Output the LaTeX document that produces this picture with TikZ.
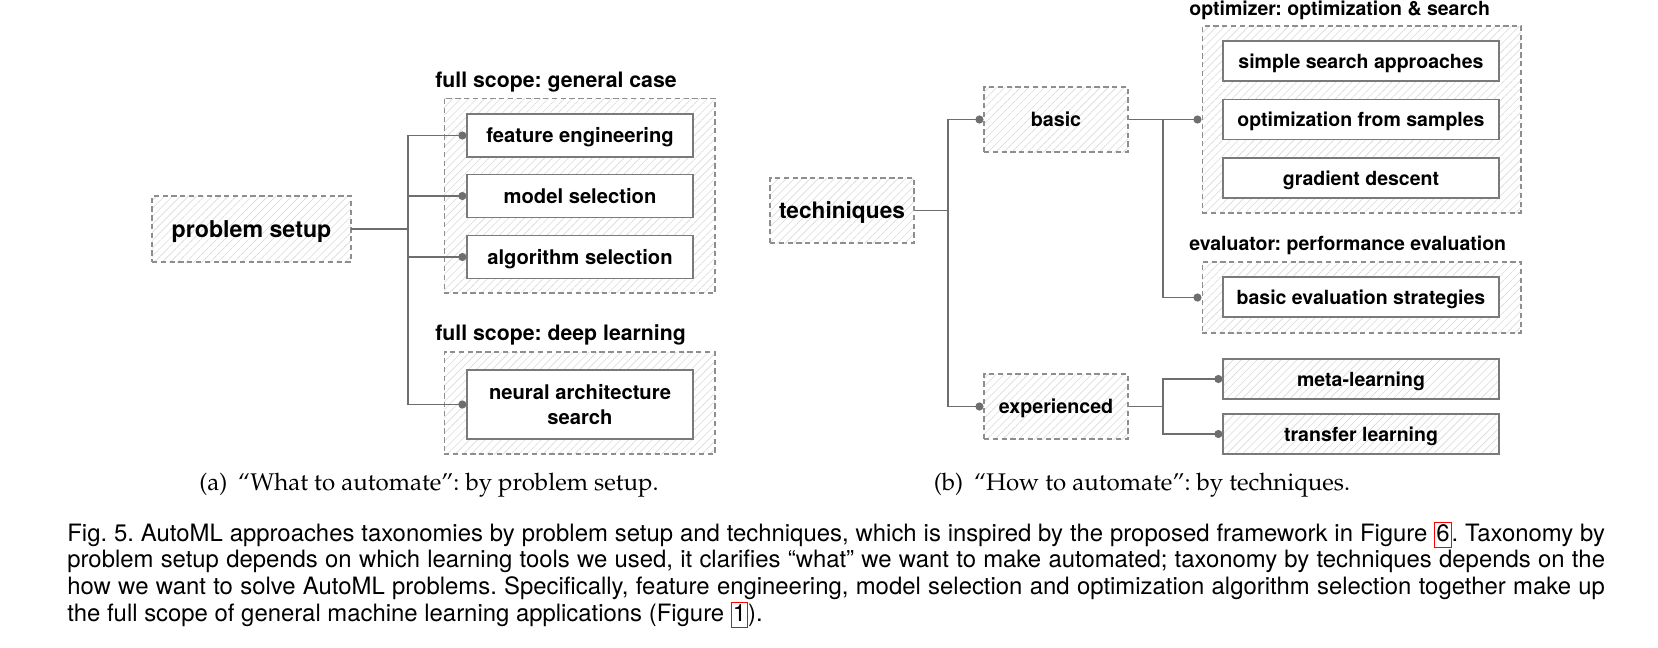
\documentclass[tikz,border=0pt]{standalone}
\usepackage[T1]{fontenc}
\usepackage{fontspec}
\usepackage{tikz}
\usetikzlibrary{arrows.meta,patterns.meta}
\newfontfamily\heros{TeX Gyre Heros}
\newcommand{\pala}{\fontencoding{T1}\fontfamily{ppl}\selectfont}
\newcommand{\fsz}[2]{\fontsize{#1}{#2}\selectfont}
\newcommand{\reflink}[1]{{\color{red}\fboxsep=0.5pt\fboxrule=0.6pt\fbox{\color{black}\vphantom{(}#1}}}
\definecolor{wiregray}{HTML}{6E6E6E}
\definecolor{rim}{HTML}{7A7A7A}
\definecolor{rimlight}{HTML}{8E8E8E}
\definecolor{hatch}{HTML}{D8D8D8}
\tikzset{
  hatched/.style={pattern={Lines[angle=45,distance=3.2pt,line width=0.35pt]},pattern color=hatch},
  group/.style={rectangle,draw=rimlight,dash pattern=on 3pt off 2pt,line width=0.6pt,hatched,text height=8.1pt,text depth=0pt},
  root/.style={group,font=\heros\bfseries\fsz{13.2}{15},text height=9.5pt},
  leaf/.style={rectangle,draw=rim,line width=0.7pt,fill=white,align=center,font=\heros\bfseries\fsz{11.5}{14.2},minimum width=4.52cm,minimum height=0.86cm,text height=8.3pt,text depth=0pt},
  leafb/.style={leaf,font=\heros\bfseries\fsz{11.1}{13},minimum width=5.52cm,minimum height=0.8cm,text height=8pt},
  grouptitle/.style={anchor=base west,inner sep=0pt,font=\heros\bfseries\fsz{12.1}{14}},
  wire/.style={draw=wiregray,line width=0.75pt},
  link/.style={wire,-{Circle[length=4.6pt]}},
  subcap/.style={font=\pala\fsz{13.7}{16}}
}
\begin{document}
\frenchspacing
\begin{tikzpicture}[x=0.02cm,y=-0.02cm]
  \useasboundingbox (0,0) rectangle (1658,647);
  % (a) problem setup
  \node[root,minimum width=3.98cm,minimum height=1.32cm] (setup) at (251.5,229) {problem setup};
  \node[group,minimum width=5.42cm,minimum height=3.9cm] (general) at (579.5,195.5) {};
  \node[group,minimum width=5.42cm,minimum height=2.04cm] (deep) at (579.5,403) {};
  \node[grouptitle] (generaltitle) at (435,87) {full scope: general case};
  \node[grouptitle] (deeptitle) at (435,340) {full scope: deep learning};
  \node[leaf] (feature) at (580,135.5) {feature engineering};
  \node[leaf] (model) at (580,196) {model selection};
  \node[leaf] (algorithm) at (580,257) {algorithm selection};
  \node[leaf,minimum height=1.38cm,text height={},text depth={}] (nas) at (580,404.5) {neural architecture\\search};
  \coordinate (forka) at (408,229);
  \draw[wire] (setup.east) -- (forka);
  \foreach \n in {feature,model,algorithm,nas}
    \draw[link] (forka) |- (\n.west);
  % (b) techniques
  \node[root,font=\heros\bfseries\fsz{12.9}{15},text height=9.3pt,minimum width=2.88cm,minimum height=1.3cm] (tech) at (842,210.5) {techiniques};
  \node[group,font=\heros\bfseries\fsz{11.2}{13},minimum width=2.88cm,minimum height=1.3cm] (basic) at (1056,119.5) {basic};
  \node[group,font=\heros\bfseries\fsz{11.2}{13},minimum width=2.88cm,minimum height=1.3cm] (experienced) at (1056,406.5) {experienced};
  \node[group,minimum width=6.38cm,minimum height=3.74cm] (optimizer) at (1361.5,119.5) {};
  \node[group,minimum width=6.38cm,minimum height=1.42cm] (evaluator) at (1361.5,297.5) {};
  \node[grouptitle,font=\heros\bfseries\fsz{11.1}{13}] (optimizertitle) at (1189,15) {optimizer: optimization \& search};
  \node[grouptitle,font=\heros\bfseries\fsz{11.1}{13}] (evaluatortitle) at (1189,250) {evaluator: performance evaluation};
  \node[leafb] (simple) at (1361,61) {simple search approaches};
  \node[leafb] (samples) at (1361,119.5) {optimization from samples};
  \node[leafb] (gradient) at (1361,178) {gradient descent};
  \node[leafb] (strategies) at (1361,297) {basic evaluation strategies};
  \node[leafb,hatched] (meta) at (1361,379) {meta-learning};
  \node[leafb,hatched] (transfer) at (1361,434) {transfer learning};
  \coordinate (forkb) at (948,210.5);
  \coordinate (forkc) at (1163,119.5);
  \coordinate (forkd) at (1163,406.5);
  \draw[wire] (tech.east) -- (forkb);
  \draw[link] (forkb) |- (basic.west);
  \draw[link] (forkb) |- (experienced.west);
  \draw[wire] (basic.east) -- (forkc);
  \draw[link] (forkc) -- (optimizer.west);
  \draw[link] (forkc) |- (evaluator.west);
  \draw[wire] (experienced.east) -- (forkd);
  \draw[link] (forkd) |- (meta.west);
  \draw[link] (forkd) |- (transfer.west);
  % captions
  \node[subcap] (capa) at (429,485) {(a)\hspace{0.45em}``What to automate'': by problem setup.};
  \node[subcap] (capb) at (1142,485) {(b)\hspace{0.45em}``How to automate'': by techniques.};
  \node[anchor=base west,inner sep=0pt,text width=30.76cm,align=justify,font=\heros\fsz{13.6}{15.2}] (figcap) at (67,541)
    {Fig. 5. AutoML approaches taxonomies by problem setup and techniques, which is inspired by the proposed framework in Figure \reflink{6}. Taxonomy by\linebreak
     problem setup depends on which learning tools we used, it clarifies “what” we want to make automated; taxonomy by techniques depends on the\linebreak
     how we want to solve AutoML problems. Specifically, feature engineering, model selection and optimization algorithm selection together make up\linebreak
     the full scope of general machine learning applications (Figure \reflink{1}).};
\end{tikzpicture}
\end{document}
